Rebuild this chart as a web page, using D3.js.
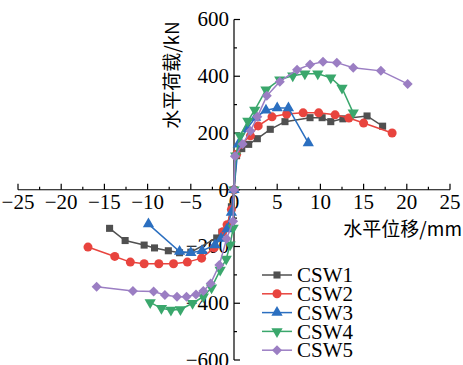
<!DOCTYPE html>
<html>
<head>
<meta charset="utf-8">
<script src="https://cdn.jsdelivr.net/npm/d3@7"></script>
<style>
  body { margin: 0; background: #fff; }
  svg { display: block; }
</style>
</head>
<body>
<script>
// data: [displacement mm, load kN]
const names = ["CSW1", "CSW2", "CSW3", "CSW4", "CSW5"];
const colors = ["#505050", "#e8443e", "#2b6fc0", "#3aa76c", "#9b7ec3"];
const markers = ["square", "circle", "triangle", "triangleDown", "diamond"];

const csw1 = [[-14.4,-136],[-12.6,-179],[-10.4,-195],[-9.2,-205],[-7.6,-215],[-6.3,-222],[-5.0,-220],
  [-2.0,-170],[-1.4,-150],[-0.8,-130],[-0.3,-60],[0,0],
  [0.3,120],[0.9,145],[1.7,160],[2.7,180],[4.2,213],[5.9,240],[8.8,254],[10.2,254],[11.2,240],[12.6,250],[15.4,260],[17.2,224]];
const csw2 = [[-16.9,-202],[-13.8,-235],[-12.0,-255],[-10.4,-261],[-8.7,-261],[-7.0,-261],[-5.4,-255],[-3.75,-241],
  [-2.3,-205],[-1.3,-148],[-0.8,-123],[-0.3,-70],[0,0],
  [0.3,125],[0.8,160],[1.9,190],[2.8,225],[4.4,257],[6.1,267],[8.0,271],[9.8,271],[11.7,264],[13.3,253],[15.0,235],[18.3,200]];
const csw3 = [[-9.9,-121],[-6.3,-218],[-5.0,-222],[-3.7,-215],[-2.2,-195],[-1.5,-172],[-0.8,-138],[-0.3,-80],[0,0],
  [0.5,160],[1.5,215],[2.5,255],[3.7,280],[5.0,288],[6.3,288],[8.6,165]];
const csw4 = [[-9.7,-397],[-8.4,-418],[-7.3,-424],[-6.2,-422],[-4.8,-400],[-3.55,-377],[-2.6,-345],[-1.6,-283],
  [-0.9,-244],[-0.45,-194],[-0.1,-135],[0,0],
  [0.2,120],[0.7,190],[1.6,242],[2.4,281],[3.7,352],[5.3,388],[6.8,402],[8.2,409],[9.7,409],[11.2,395],[12.5,359],[13.8,271]];
const csw5 = [[-15.9,-342],[-11.7,-357],[-9.3,-359],[-8.0,-371],[-6.6,-377],[-5.5,-377],[-4.4,-369],[-3.55,-357],
  [-2.7,-330],[-1.7,-265],[-0.85,-173],[-0.1,-111],[0,0],
  [0.1,118],[1.0,161],[1.9,207],[2.7,257],[3.8,331],[5.3,381],[7.3,423],[8.8,441],[10.3,451],[11.9,448],[13.8,430],[17.0,419],[20.1,373]];
const series = [csw1, csw2, csw3, csw4, csw5];

const xTicks = [-25, -20, -15, -10, -5, 0, 5, 10, 15, 20, 25];
const yTicks = [-600, -400, -200, 0, 200, 400, 600];

const width = 463, height = 365;
const serif = "'Liberation Serif', 'DejaVu Serif', serif";
const cjk = "'Noto Sans CJK SC', sans-serif";

const svg = d3.select("body").append("svg")
  .attr("width", width)
  .attr("height", height);

const x = d3.scaleLinear().domain([-25, 25]).range([18, 450]);
const y = d3.scaleLinear().domain([-600, 600]).range([360, 19.5]);

// x axis through y=0, ticks pointing up
const xAxisG = svg.append("g").attr("transform", `translate(0,${y(0)})`);
xAxisG.append("line")
  .attr("x1", x(-25)).attr("x2", x(25))
  .attr("stroke", "#000").attr("stroke-width", 1.2);
xAxisG.selectAll(".minor")
  .data(d3.range(-25, 25.1, 2.5))
  .join("line")
  .attr("x1", d => x(d)).attr("x2", d => x(d))
  .attr("y1", 0).attr("y2", d => d % 5 === 0 ? -6 : -3)
  .attr("stroke", "#000").attr("stroke-width", 1.2);
xAxisG.selectAll(".lbl")
  .data(xTicks)
  .join("text")
  .attr("x", d => x(d))
  .attr("y", 19)
  .attr("text-anchor", "middle")
  .attr("font-family", serif)
  .attr("font-size", 21)
  .text(d => d3.format("d")(d));

// y axis through x=0, ticks pointing right
const yAxisG = svg.append("g").attr("transform", `translate(${x(0)},0)`);
yAxisG.append("line")
  .attr("y1", y(-600)).attr("y2", y(600))
  .attr("stroke", "#000").attr("stroke-width", 1.2);
yAxisG.selectAll(".tk")
  .data(d3.range(-600, 601, 100))
  .join("line")
  .attr("y1", d => y(d)).attr("y2", d => y(d))
  .attr("x1", 0).attr("x2", d => d % 200 === 0 ? 6 : 3)
  .attr("stroke", "#000").attr("stroke-width", 1.2);
yAxisG.selectAll(".lbl")
  .data(yTicks)
  .join("text")
  .attr("x", -5)
  .attr("y", d => y(d))
  .attr("dy", "0.33em")
  .attr("text-anchor", "end")
  .attr("font-family", serif)
  .attr("font-size", 21)
  .text(d => d3.format("d")(d));

// axis titles
svg.append("text")
  .attr("transform", `translate(172,75) rotate(-90)`)
  .attr("text-anchor", "middle")
  .attr("dy", "0.35em")
  .attr("font-family", cjk)
  .attr("font-size", 19)
  .text("水平荷载/kN");

svg.append("text")
  .attr("x", 462)
  .attr("y", 236)
  .attr("text-anchor", "end")
  .attr("font-family", cjk)
  .attr("font-size", 19)
  .text("水平位移/mm");

// markers
function markerPath(kind) {
  if (kind === "square") return d3.symbol(d3.symbolSquare, 50)();
  if (kind === "circle") return d3.symbol(d3.symbolCircle, 64)();
  if (kind === "triangle") return d3.symbol(d3.symbolTriangle, 55)();
  if (kind === "triangleDown") return d3.symbol(d3.symbolTriangle, 55)();
  return d3.symbol(d3.symbolSquare, 50)();
}
function markerRot(kind) {
  if (kind === "triangleDown") return " rotate(180)";
  if (kind === "diamond") return " rotate(45)";
  return "";
}

const line = d3.line().x(d => x(d[0])).y(d => y(d[1]));

series.forEach((data, i) => {
  const g = svg.append("g");
  g.append("path")
    .attr("d", line(data))
    .attr("fill", "none")
    .attr("stroke", colors[i])
    .attr("stroke-width", 1.5);
  g.selectAll("path.m")
    .data(data)
    .join("path")
    .attr("class", "m")
    .attr("d", markerPath(markers[i]))
    .attr("transform", d => `translate(${x(d[0])},${y(d[1])})` + markerRot(markers[i]))
    .attr("fill", colors[i]);
});

// legend
const legend = svg.append("g");
names.forEach((n, i) => {
  const cy = 275 + i * 18.8;
  legend.append("line")
    .attr("x1", 262).attr("x2", 292)
    .attr("y1", cy).attr("y2", cy)
    .attr("stroke", colors[i]).attr("stroke-width", 1.5);
  legend.append("path")
    .attr("d", markerPath(markers[i]))
    .attr("transform", `translate(277,${cy})` + markerRot(markers[i]))
    .attr("fill", colors[i]);
  legend.append("text")
    .attr("x", 297)
    .attr("y", cy)
    .attr("dy", "0.34em")
    .attr("font-family", serif)
    .attr("font-size", 21)
    .text(n);
});
</script>
</body>
</html>
